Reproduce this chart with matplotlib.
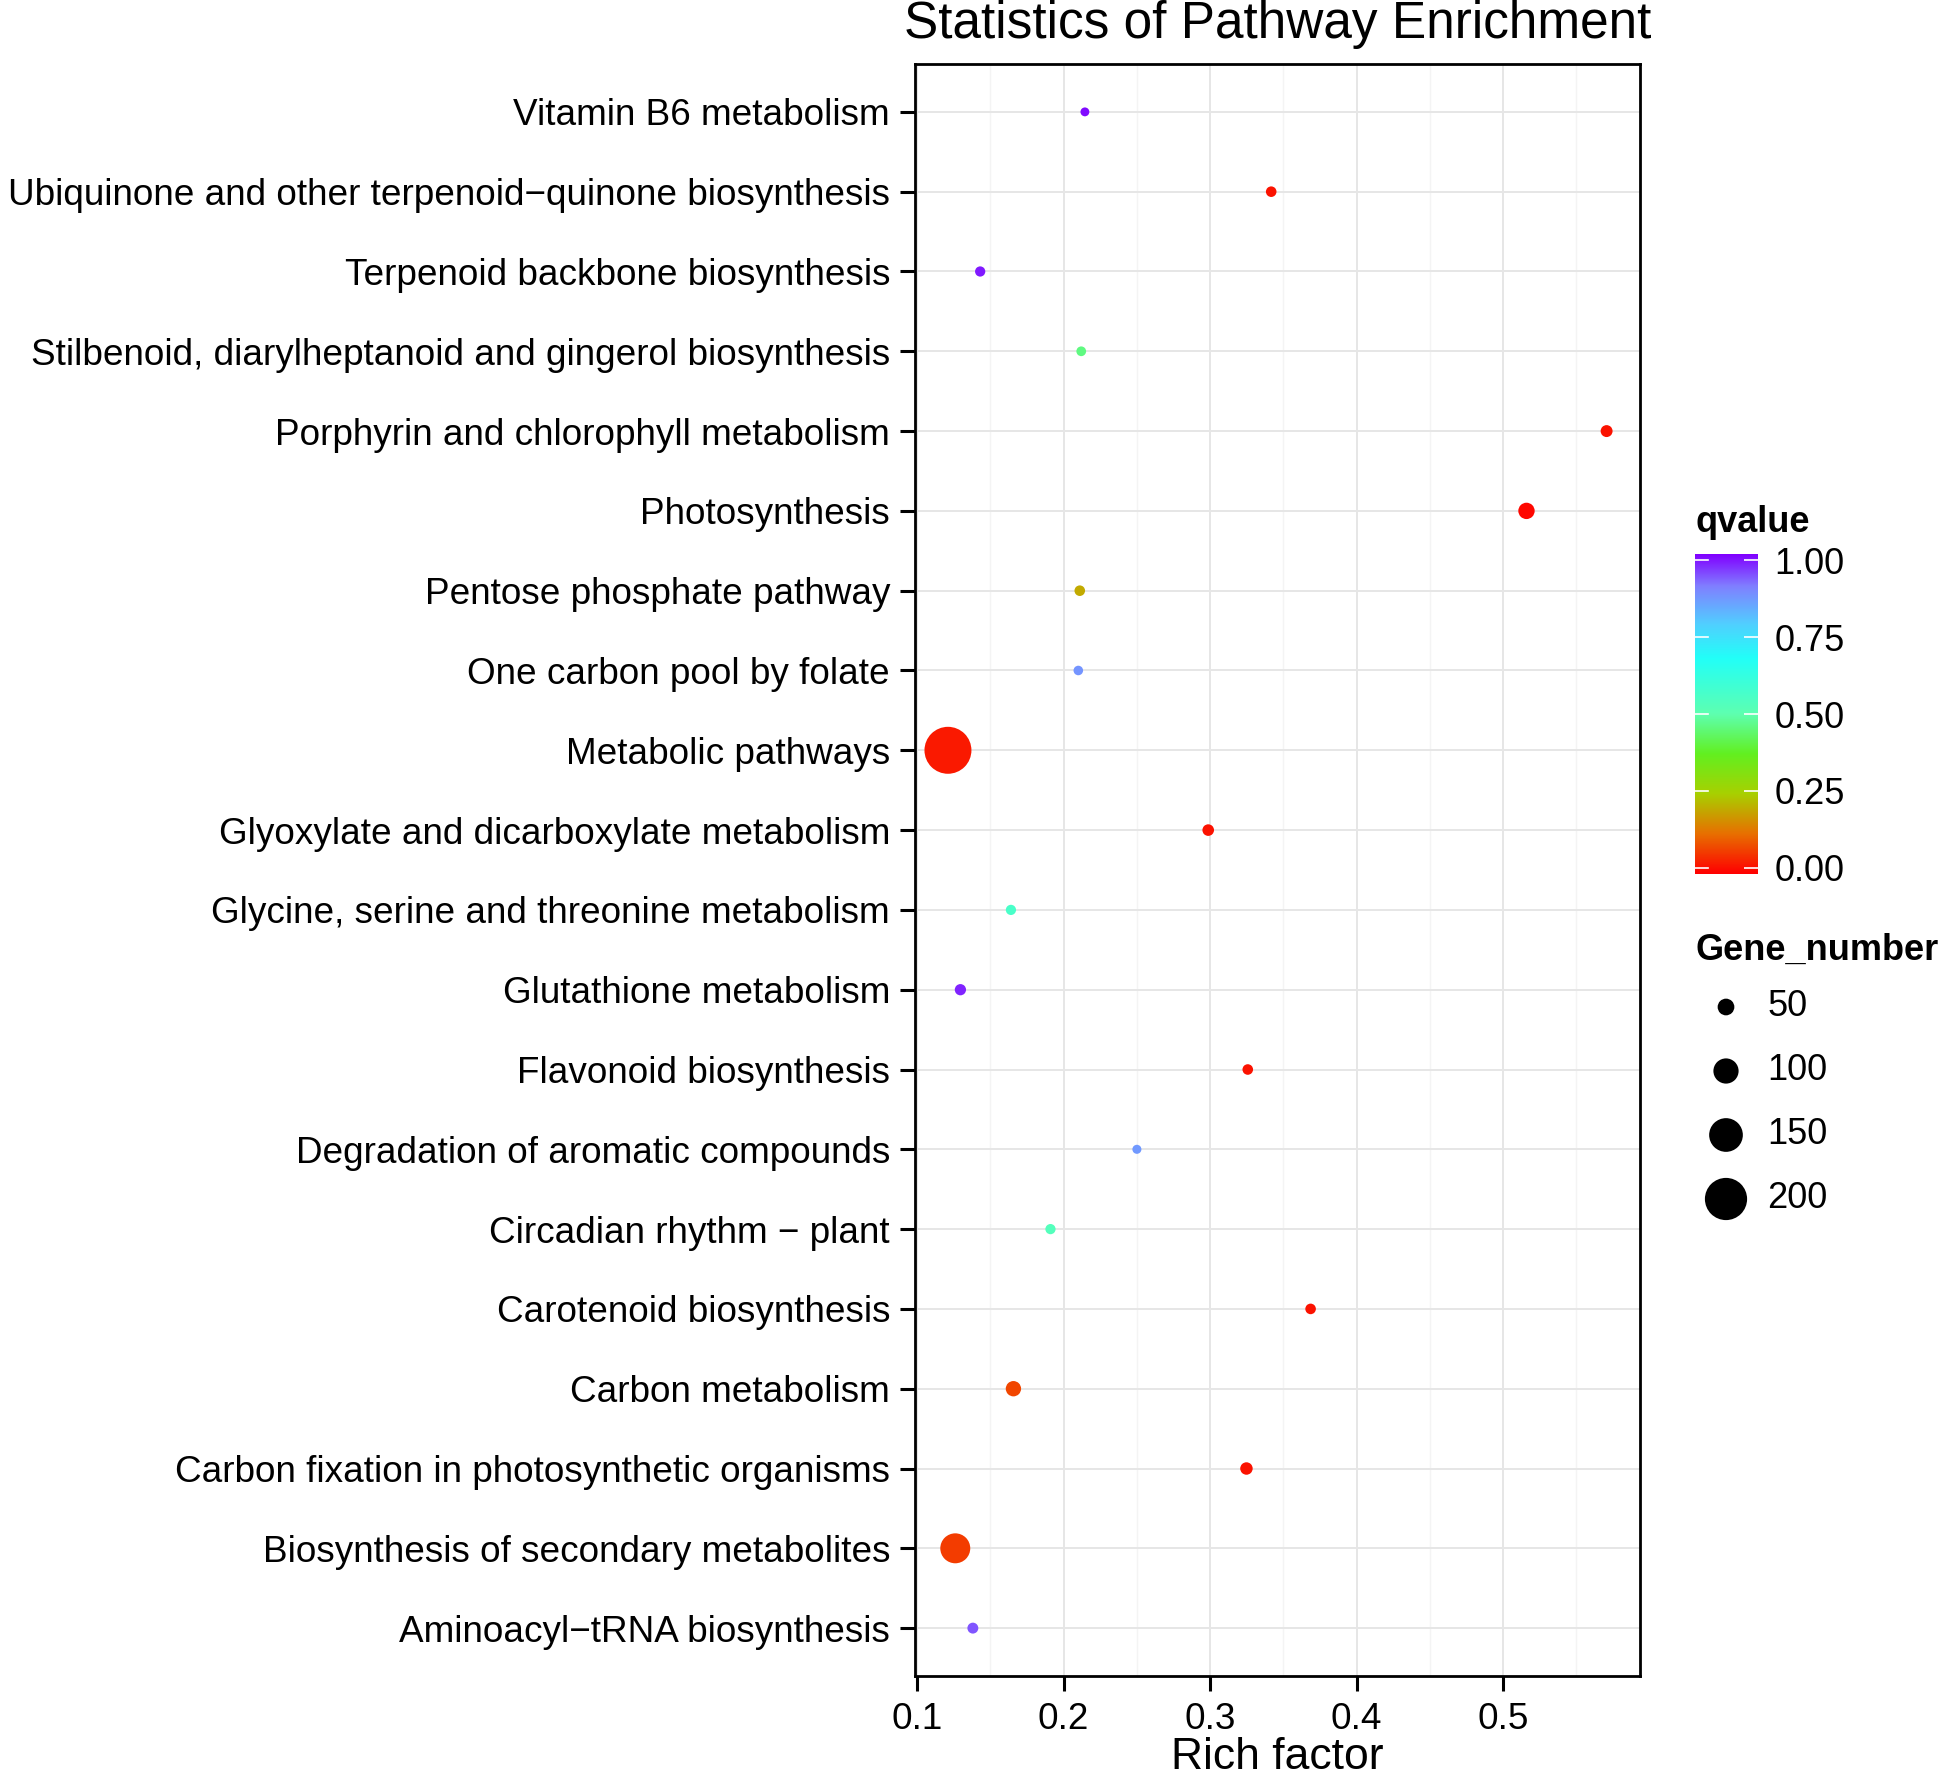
import numpy as np
import matplotlib
matplotlib.use('Agg')
import matplotlib.pyplot as plt
from matplotlib.colors import LinearSegmentedColormap, Normalize

plt.rcParams['font.family'] = ['Liberation Sans', 'DejaVu Sans']

# pathways, listed top to bottom as in the chart
pathways = [
    'Vitamin B6 metabolism',
    'Ubiquinone and other terpenoid\u2212quinone biosynthesis',
    'Terpenoid backbone biosynthesis',
    'Stilbenoid, diarylheptanoid and gingerol biosynthesis',
    'Porphyrin and chlorophyll metabolism',
    'Photosynthesis',
    'Pentose phosphate pathway',
    'One carbon pool by folate',
    'Metabolic pathways',
    'Glyoxylate and dicarboxylate metabolism',
    'Glycine, serine and threonine metabolism',
    'Glutathione metabolism',
    'Flavonoid biosynthesis',
    'Degradation of aromatic compounds',
    'Circadian rhythm \u2212 plant',
    'Carotenoid biosynthesis',
    'Carbon metabolism',
    'Carbon fixation in photosynthetic organisms',
    'Biosynthesis of secondary metabolites',
    'Aminoacyl\u2212tRNA biosynthesis',
]
rich_factor = [0.2145, 0.3417, 0.143, 0.212, 0.5707, 0.516, 0.211, 0.210, 0.121, 0.2987,
               0.164, 0.1295, 0.3257, 0.250, 0.191, 0.3686, 0.1657, 0.3248, 0.126, 0.138]
qvalue = [0.99, 0.02, 0.98, 0.46, 0.02, 0.01, 0.20, 0.87, 0.03, 0.02,
          0.56, 0.97, 0.02, 0.86, 0.53, 0.02, 0.08, 0.02, 0.07, 0.93]
gene_number = [4, 14, 12, 9, 22, 48, 14, 8, 228, 20,
               12, 18, 14, 5, 12, 14, 42, 25, 128, 16]

legend_genes = [50, 100, 150, 200]
cbar_ticks = [0.0, 0.25, 0.5, 0.75, 1.0]
xticks = [0.1, 0.2, 0.3, 0.4, 0.5]

DPI = 200
W, H = 1944, 1778

def marker_area(n):
    # diameter in pixels grows linearly with gene number
    d_px = 8.2 + 0.17 * np.asarray(n, dtype=float)
    return (d_px * 72.0 / DPI) ** 2

cmap = LinearSegmentedColormap.from_list('qv', [
    (0.00, '#FF0000'),
    (0.125, '#E87000'),
    (0.25, '#A8D000'),
    (0.375, '#62F020'),
    (0.50, '#5EFFB0'),
    (0.675, '#22FFF8'),
    (0.78, '#50D0FF'),
    (0.90, '#8080FF'),
    (1.00, '#8000FF'),
])
norm = Normalize(0, 1)

fig = plt.figure(figsize=(W / DPI, H / DPI), dpi=DPI)
ax = fig.add_axes([915 / W, 1 - 1676 / H, (1640 - 915) / W, (1676 - 64) / H])

n = len(pathways)
ypos = np.arange(n, 0, -1)

# grid
for x in np.arange(0.15, 0.6, 0.1):
    ax.axvline(x, color='#F4F4F4', lw=0.5, zorder=0)
for x in xticks:
    ax.axvline(x, color='#E6E6E6', lw=0.7, zorder=0)
for y in ypos:
    ax.axhline(y, color='#E6E6E6', lw=0.7, zorder=0)

sc = ax.scatter(rich_factor, ypos, s=marker_area(gene_number), c=qvalue,
                cmap=cmap, norm=norm, linewidths=0, zorder=3)

ax.set_xlim(0.0985, 0.5935)
ax.set_ylim(0.4, n + 0.6)
ax.set_xticks(xticks)
ax.set_xticklabels(['0.1', '0.2', '0.3', '0.4', '0.5'])
ax.set_yticks(ypos)
ax.set_yticklabels(pathways)
ax.tick_params(axis='both', direction='out', length=5.5, width=1.1, color='black',
               labelsize=13.3, labelcolor='black')
ax.tick_params(axis='x', pad=4)
ax.tick_params(axis='y', pad=3.5)
for sp in ax.spines.values():
    sp.set_linewidth(1.0)
    sp.set_color('black')

fig.text((915 + 1640) / 2 / W, 1 - 38 / H, 'Statistics of Pathway Enrichment',
         fontsize=18.5, ha='center', va='baseline')
ax.set_xlabel('Rich factor', fontsize=16, labelpad=0)

# colour bar legend
cax = fig.add_axes([1695 / W, 1 - 874 / H, (1758 - 1695) / W, (874 - 554) / H])
grad = np.linspace(0, 1, 256).reshape(-1, 1)
cax.imshow(grad, aspect='auto', cmap=cmap, origin='lower', extent=[0, 1, -0.02, 1.02])
cax.set_xlim(0, 1)
cax.set_ylim(-0.02, 1.02)
cax.set_xticks([])
cax.yaxis.tick_right()
cax.set_yticks(cbar_ticks)
cax.set_yticklabels(['%.2f' % t for t in cbar_ticks])
cax.tick_params(axis='y', direction='in', length=5, width=0.6, color='white',
                labelsize=13, pad=6)
for t in cbar_ticks:
    cax.plot([0, 0.2], [t, t], color='white', lw=0.6)
for sp in cax.spines.values():
    sp.set_visible(False)
fig.text(1695 / W, 1 - 540 / H, 'qvalue', fontsize=13, fontweight='bold',
         ha='left', va='bottom')

# gene number legend, drawn on an overlay in pixel units
lax = fig.add_axes([0, 0, 1, 1])
lax.set_xlim(0, W)
lax.set_ylim(H, 0)
lax.axis('off')
lax.text(1695, 960, 'Gene_number', fontsize=13, fontweight='bold', ha='left', va='baseline')
leg_y = 1007 + 64 * np.arange(len(legend_genes))
lax.scatter([1726] * len(legend_genes), leg_y, s=marker_area(legend_genes),
            color='black', linewidths=0)
for g, y in zip(legend_genes, leg_y):
    lax.text(1767, y, str(g), fontsize=13, ha='left', va='center')

fig.savefig('out.png', dpi=DPI)
